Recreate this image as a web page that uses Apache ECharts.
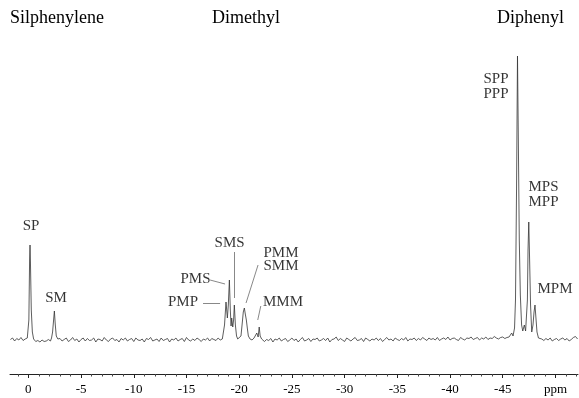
<!DOCTYPE html>
<html>
<head>
<meta charset="utf-8">
<script src="https://cdn.jsdelivr.net/npm/echarts@6/dist/echarts.min.js"></script>
<style>
  html, body { margin: 0; background: #fff; }
  #chart { width: 579px; height: 398px; }
</style>
</head>
<body>
<div id="chart"></div>
<script>
const seg = (start, step, values) => values.map((v, i) => [+(start - i * step).toFixed(2), v])

const baseA = seg(1.7, 0.2, [0.5, 2, -1, 1.5, 0, 2.5, -0.5, 1])
const peakSP = [[0.1, 2], [-0.05, 20], [-0.12, 80], [-0.16, 95], [-0.2, 78], [-0.28, 30], [-0.38, 8], [-0.5, 1]]
const baseB = seg(-0.7, 0.2, [-1.5, -0.5, -2, 0, -1.5, -1, 0.5, -1])
const peakSM = [[-2.2, 2], [-2.3, 8], [-2.38, 18], [-2.47, 29], [-2.55, 16], [-2.65, 4], [-2.8, 1]]
const baseC = seg(-3.0, 0.2, [
  1.5, -1, 0.5, 2, -1.5, 0, 2.5, -0.5, 1, -2,
  0.5, 2, -1, 1.5, -0.5, 0, 2, -2, 1, 0.5,
  -1, 2.5, 0, -1.5, 1, 2, -0.5, 0.5, -2, 1.5,
  0, 2, -1, 0.5, 1.5, -1.5, 2, 0, -0.5, 1,
  -2, 1.5, 0.5, 2.5, -1, 0, 1, -1.5, 2, -0.5,
  0.5, 1.5, -2, 1, 0, 2, -1, 0.5, 1.5, -1.5,
  2.5, 0, -1, 1, -0.5, 2, 0.5, -1.5, 1, 0,
  2, -1, 1.5, 0.5, -0.5, 2, 0, 1
])
const peaksDimethyl = [
  [-18.47, 2], [-18.61, 15], [-18.75, 38], [-18.88, 22], [-18.97, 35], [-19.07, 60],
  [-19.16, 30], [-19.23, 14], [-19.29, 22], [-19.39, 13], [-19.47, 20], [-19.54, 35],
  [-19.64, 15], [-19.75, 4], [-19.86, 1], [-19.98, 1], [-20.17, 4], [-20.3, 18],
  [-20.39, 28], [-20.49, 32], [-20.58, 26], [-20.68, 20], [-20.77, 12], [-20.87, 4],
  [-21.03, 1], [-21.22, 0], [-21.41, 2], [-21.67, 7], [-21.8, 3], [-21.9, 13],
  [-21.99, 4], [-22.13, 1], [-22.27, -1]
]
const baseD = seg(-22.4, 0.2, [
  -1.5, 0.5, -0.5, 1.5, -2, 1, 0, 2, -1, 0.5,
  1.5, -1.5, 0, 2, -0.5, 1, -2, 0.5, 2.5, -1,
  0, 1.5, -1.5, 1, 0.5, 2, -1, 0, 1.5, -0.5,
  2, -2, 0.5, 1, 3, -0.5, 1.5, 0, -1.5, 2,
  0.5, -1, 1, 2.5, -0.5, 0, 1.5, -1.5, 2, 0.5,
  -1, 1, 0, 2, -0.5, 1.5, -1.5, 0.5, 2.5, 0,
  1, -1, 2, 0.5, -0.5, 1.5, 0, 2.5, -1, 1,
  0.5, 2, -0.5, 1.5, 0, 2.5, 1, -0.5, 2, 0.5,
  1.5, 0, 2.5, -0.5, 1, 2, 0.5, 3, 0, 1.5,
  2, 0.5, -0.5, 2.5, 1, 0, 2, 1.5, 3, 0.5,
  1.5, 2.5, 0, 2, 1, 3, 0.5, 2, 1.5, 3.5,
  2, 1, 2.5, 3, 1.5, 2.5, 3
])
const peaksDiphenyl = [
  [-45.75, 2], [-45.85, 7], [-45.98, 4], [-46.12, 12], [-46.21, 40], [-46.31, 150],
  [-46.4, 284], [-46.48, 200], [-46.57, 100], [-46.67, 45], [-46.79, 15], [-46.9, 9],
  [-47.05, 15], [-47.17, 9], [-47.25, 8], [-47.34, 40], [-47.4, 90], [-47.47, 118],
  [-47.55, 80], [-47.64, 35], [-47.75, 8], [-47.87, 15], [-47.97, 28], [-48.06, 35],
  [-48.15, 22], [-48.25, 8], [-48.39, 2], [-48.54, 0]
]
const baseE = seg(-48.7, 0.2, [1, -0.5, 1.5, 0, 2, -1, 0.5, 1.5, -0.5, 1, 2, 0, 1.5, -1, 0.5, 2.5, 3.5, 1])

// peak labels: [text, ppm, height]
const peakLabels = [
  ['SP', -0.26, 114], ['SM', -2.63, 42],
  ['SMS', -19.09, 97], ['PMS', -15.86, 61], ['PMP', -14.67, 38],
  ['PMM', -23.97, 87], ['SMM', -23.97, 74], ['MMM', -24.16, 38],
  ['SPP', -44.36, 261], ['PPP', -44.36, 246],
  ['MPS', -48.87, 153], ['MPP', -48.87, 138], ['MPM', -49.96, 51]
]
// leader lines: [ppm1, h1, ppm2, h2]
const leaders = [
  [-17.24, 60, -18.66, 56],
  [-16.57, 37, -18.19, 37],
  [-19.51, 88, -19.51, 42],
  [-21.79, 75, -20.65, 37],
  [-22.05, 34, -21.76, 20]
]

const groupTitles = ['Silphenylene', 'Dimethyl', 'Diphenyl']
const majorTicks = [0, -5, -10, -15, -20, -25, -30, -35, -40, -45, -50]
const majorLabels = ['0', '-5', '-10', '-15', '-20', '-25', '-30', '-35', '-40', '-45', 'ppm']

const minorTicks = []
for (let v = 1; v >= -52; v--) if (v % 5 !== 0) minorTicks.push(v)

const spectrum = [].concat(baseA, peakSP, baseB, peakSM, baseC, peaksDimethyl, baseD, peaksDiphenyl, baseE)

const serif = '"Liberation Serif", "Times New Roman", serif'
const chart = echarts.init(document.getElementById('chart'))

const xBase = {
  type: 'value',
  min: -52.14,
  max: 1.74,
  inverse: true,
  position: 'bottom',
  splitLine: { show: false },
}

chart.setOption({
  animation: false,
  backgroundColor: '#fff',
  grid: { left: 10, right: 1, top: 40, bottom: 24 },
  graphic: [
    { type: 'text', left: 10, top: 9, style: { text: groupTitles[0], font: '18px ' + serif, fill: '#000' } },
    { type: 'text', left: 212, top: 9, style: { text: groupTitles[1], font: '18px ' + serif, fill: '#000' } },
    { type: 'text', left: 497, top: 9, style: { text: groupTitles[2], font: '18px ' + serif, fill: '#000' } },
  ],
  xAxis: [
    {
      ...xBase,
      axisLine: { onZero: false, lineStyle: { color: '#222', width: 1 } },
      axisTick: { customValues: majorTicks, length: 4, lineStyle: { color: '#222' } },
      axisLabel: {
        customValues: majorTicks,
        margin: 9,
        color: '#000',
        fontFamily: serif,
        fontSize: 13,
        formatter: v => majorLabels[majorTicks.indexOf(v)] ?? String(v),
      },
    },
    {
      ...xBase,
      axisLine: { show: false, onZero: false },
      axisTick: { customValues: minorTicks, length: 2.5, lineStyle: { color: '#444' } },
      axisLabel: { show: false },
    },
  ],
  yAxis: { type: 'value', min: -34, max: 300, show: false },
  series: [
    {
      type: 'line',
      data: spectrum,
      showSymbol: false,
      lineStyle: { color: '#333', width: 0.8 },
      markLine: {
        silent: true,
        symbol: 'none',
        label: { show: false },
        lineStyle: { color: '#555', width: 0.7, type: 'solid' },
        data: leaders.map(l => [{ coord: [l[0], l[1]] }, { coord: [l[2], l[3]] }]),
      },
    },
    {
      type: 'scatter',
      data: peakLabels.map(p => [p[1], p[2], p[0]]),
      symbolSize: 1,
      itemStyle: { color: 'transparent' },
      label: {
        show: true,
        position: 'inside',
        formatter: p => p.data[2],
        color: '#000',
        fontFamily: serif,
        fontSize: 15,
      },
    },
  ],
})
</script>
</body>
</html>
